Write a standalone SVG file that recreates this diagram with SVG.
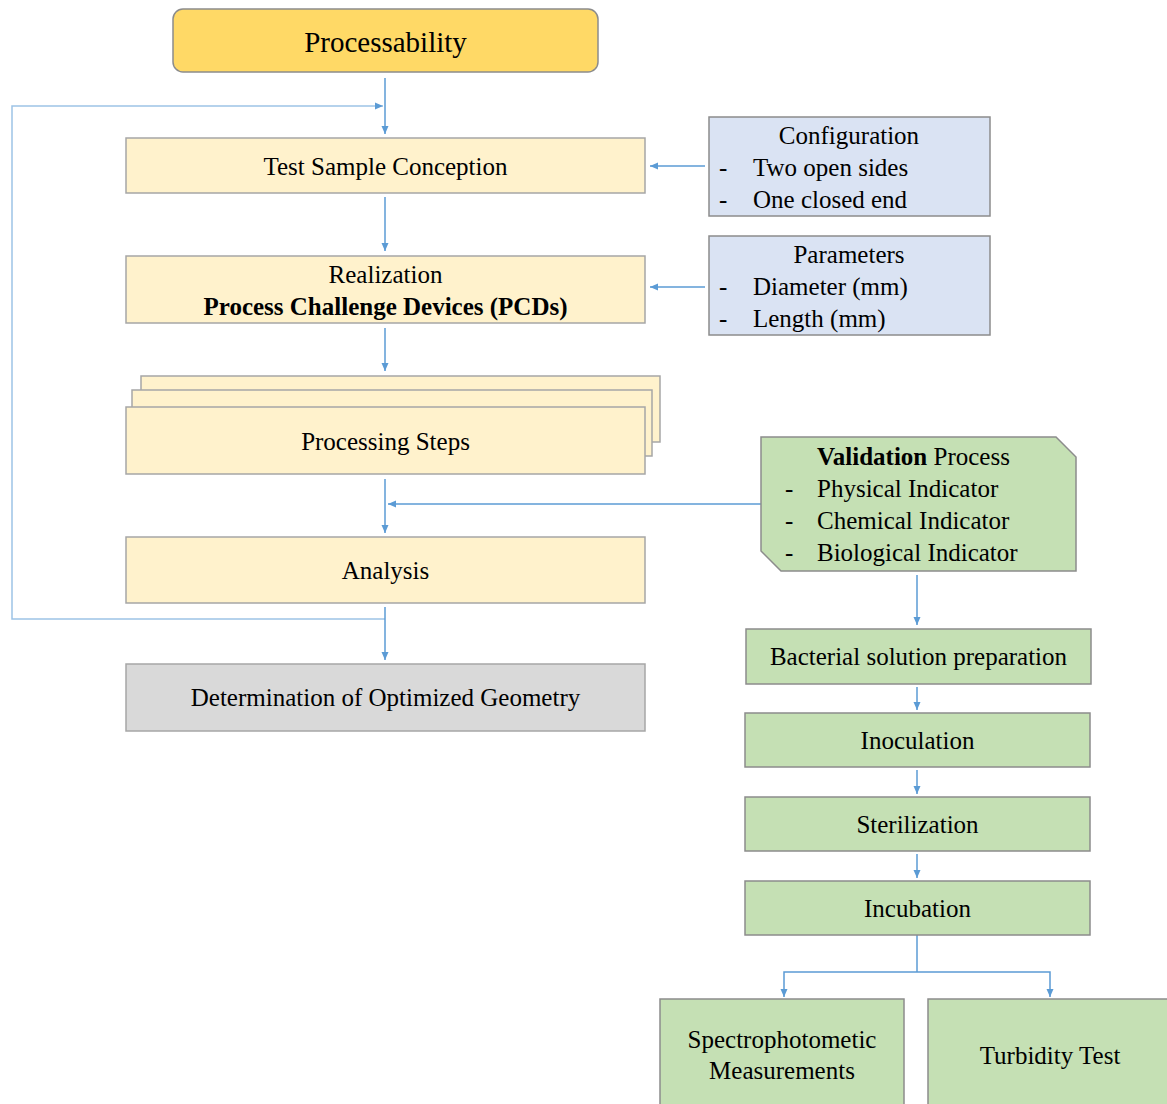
<svg xmlns="http://www.w3.org/2000/svg" width="1167" height="1104" viewBox="0 0 1167 1104" font-family="'Liberation Serif', 'Times New Roman', serif">
  <defs>
    <marker id="arr" markerWidth="10" markerHeight="10" refX="9" refY="5" orient="auto" markerUnits="userSpaceOnUse">
      <path d="M1,1.5 L9,5 L1,8.5 Z" fill="#5B9BD5"/>
    </marker>
  </defs>
  <style>
    text { fill: #000; }
    .t { font-size: 25px; text-anchor: middle; }
    .l { font-size: 25px; }
    .b { font-weight: bold; }
    .yel { fill: #FFF2CC; stroke: #A6A6A6; stroke-width: 1.5; }
    .blu { fill: #DAE3F3; stroke: #8C8C8C; stroke-width: 1.5; }
    .grn { fill: #C5E0B4; stroke: #8C8C8C; stroke-width: 1.5; }
    .gry { fill: #D9D9D9; stroke: #A6A6A6; stroke-width: 1.5; }
    .c { fill: none; stroke: #5B9BD5; stroke-width: 1.5; }
    .loop { fill: none; stroke: #9DC3E6; stroke-width: 1.5; }
  </style>
  <rect width="1167" height="1104" fill="#FFFFFF"/>

  <!-- connectors -->
  <g id="connectors">
    <path class="loop" d="M385,619 H12 V106 H383" marker-end="url(#arr)"/>
    <line class="c" x1="385" y1="78" x2="385" y2="134" marker-end="url(#arr)"/>
    <line class="c" x1="705" y1="166" x2="650" y2="166" marker-end="url(#arr)"/>
    <line class="c" x1="385" y1="197" x2="385" y2="251" marker-end="url(#arr)"/>
    <line class="c" x1="705" y1="287" x2="650" y2="287" marker-end="url(#arr)"/>
    <line class="c" x1="385" y1="328" x2="385" y2="371" marker-end="url(#arr)"/>
    <line class="c" x1="385" y1="479" x2="385" y2="533" marker-end="url(#arr)"/>
    <line class="c" x1="761" y1="504" x2="388" y2="504" marker-end="url(#arr)"/>
    <line class="c" x1="385" y1="607" x2="385" y2="660" marker-end="url(#arr)"/>
    <line class="c" x1="917" y1="575" x2="917" y2="625" marker-end="url(#arr)"/>
    <line class="c" x1="917" y1="687" x2="917" y2="710" marker-end="url(#arr)"/>
    <line class="c" x1="917" y1="770" x2="917" y2="794" marker-end="url(#arr)"/>
    <line class="c" x1="917" y1="854" x2="917" y2="878" marker-end="url(#arr)"/>
    <path class="c" d="M917,935 V972"/>
    <path class="c" d="M917,972 H784 V997" marker-end="url(#arr)"/>
    <path class="c" d="M917,972 H1050 V997" marker-end="url(#arr)"/>
  </g>

  <g id="processability">
    <rect x="173" y="9" width="425" height="63" rx="10" fill="#FFD966" stroke="#8C8C8C" stroke-width="1.5"/>
    <text x="385.5" y="52" style="font-size:29px;text-anchor:middle">Processability</text>
  </g>

  <g id="test-sample">
    <rect class="yel" x="126" y="138" width="519" height="55"/>
    <text class="t" x="385.5" y="175">Test Sample Conception</text>
  </g>

  <g id="configuration">
    <rect class="blu" x="709" y="117" width="281" height="99"/>
    <text class="t" x="849" y="144">Configuration</text>
    <text class="l" x="719" y="176">-</text>
    <text class="l" x="753" y="176">Two open sides</text>
    <text class="l" x="719" y="208">-</text>
    <text class="l" x="753" y="208">One closed end</text>
  </g>

  <g id="realization">
    <rect class="yel" x="126" y="256" width="519" height="67"/>
    <text class="t" x="385.5" y="283">Realization</text>
    <text class="t b" x="385.5" y="315">Process Challenge Devices (PCDs)</text>
  </g>

  <g id="parameters">
    <rect class="blu" x="709" y="236" width="281" height="99"/>
    <text class="t" x="849" y="263">Parameters</text>
    <text class="l" x="719" y="295">-</text>
    <text class="l" x="753" y="295">Diameter (mm)</text>
    <text class="l" x="719" y="327">-</text>
    <text class="l" x="753" y="327">Length (mm)</text>
  </g>

  <g id="processing-steps">
    <rect class="yel" x="141" y="376" width="519" height="66"/>
    <rect class="yel" x="132" y="390" width="520" height="66"/>
    <rect class="yel" x="126" y="407" width="519" height="67"/>
    <text class="t" x="385.5" y="450">Processing Steps</text>
  </g>

  <g id="validation">
    <path class="grn" d="M761,437 H1056 L1076,457 V571 H781 L761,551 Z"/>
    <text class="l" x="817" y="465"><tspan class="b">Validation</tspan> Process</text>
    <text class="l" x="785" y="497">-</text>
    <text class="l" x="817" y="497">Physical Indicator</text>
    <text class="l" x="785" y="529">-</text>
    <text class="l" x="817" y="529">Chemical Indicator</text>
    <text class="l" x="785" y="561">-</text>
    <text class="l" x="817" y="561">Biological Indicator</text>
  </g>

  <g id="analysis">
    <rect class="yel" x="126" y="537" width="519" height="66"/>
    <text class="t" x="385.5" y="579">Analysis</text>
  </g>

  <g id="optimized-geometry">
    <rect class="gry" x="126" y="664" width="519" height="67"/>
    <text class="t" x="385.5" y="706">Determination of Optimized Geometry</text>
  </g>

  <g id="bacterial">
    <rect class="grn" x="746" y="629" width="345" height="55"/>
    <text class="t" x="918.5" y="665">Bacterial solution preparation</text>
  </g>

  <g id="inoculation">
    <rect class="grn" x="745" y="713" width="345" height="54"/>
    <text class="t" x="917.5" y="749">Inoculation</text>
  </g>

  <g id="sterilization">
    <rect class="grn" x="745" y="797" width="345" height="54"/>
    <text class="t" x="917.5" y="833">Sterilization</text>
  </g>

  <g id="incubation">
    <rect class="grn" x="745" y="881" width="345" height="54"/>
    <text class="t" x="917.5" y="917">Incubation</text>
  </g>

  <g id="spectrophotometric">
    <rect class="grn" x="660" y="999" width="244" height="115"/>
    <text class="t" x="782" y="1048">Spectrophotometic</text>
    <text class="t" x="782" y="1079">Measurements</text>
  </g>

  <g id="turbidity">
    <rect class="grn" x="928" y="999" width="250" height="115"/>
    <text class="t" x="1050" y="1064">Turbidity Test</text>
  </g>
</svg>
